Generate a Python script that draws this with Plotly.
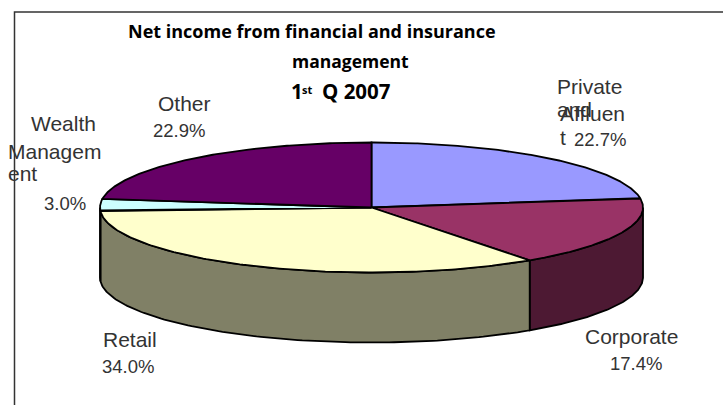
import numpy as np
import plotly.graph_objects as go

# Segment shares of net income, % of total, clockwise from twelve o'clock
segments = ["Private and Affluent", "Corporate", "Retail", "Wealth Management", "Other"]
shares = [22.7, 17.4, 34.0, 3.0, 22.9]
top_colors = ["#9999FF", "#993366", "#FFFFCC", "#CCFFFF", "#660066"]
wall_colors = ["#4D4D80", "#4D1933", "#808066", "#668080", "#330033"]

# Tilted disc geometry in page pixels
CX, CY, RX, RY, DEPTH = 371.5, 207.5, 271.5, 65, 70


def rim(t):
    return CX + RX * np.sin(t), CY - RY * np.cos(t)


fig = go.Figure()
edges = np.radians(np.cumsum([0] + shares) * 3.6)

# Side walls: only the part of each slice on the near half of the disc
for i in range(len(shares)):
    lo, hi = max(edges[i], np.pi / 2), min(edges[i + 1], 3 * np.pi / 2)
    if hi <= lo:
        continue
    t = np.linspace(lo, hi, 120)
    x, y = rim(t)
    fig.add_trace(go.Scatter(
        x=np.r_[x, x[::-1], x[0]], y=np.r_[y, y[::-1] + DEPTH, y[0]],
        mode="lines", fill="toself", fillcolor=wall_colors[i],
        line=dict(color="black", width=1.8), hoverinfo="skip",
    ))

# Top face wedges
for i, name in enumerate(segments):
    t = np.linspace(edges[i], edges[i + 1], 160)
    x, y = rim(t)
    fig.add_trace(go.Scatter(
        x=np.r_[CX, x, CX], y=np.r_[CY, y, CY],
        mode="lines", fill="toself", fillcolor=top_colors[i],
        line=dict(color="black", width=1.8), name=name, hoverinfo="name",
    ))

# Chart frame: left and top edges only
fig.add_shape(type="path", path="M 14.5 405 L 14.5 12 L 723 12",
              line=dict(color="#333333", width=1.5))


def title_font(size):
    return dict(family="Open Sans", size=size, color="black", weight=700)


WORD_FONT = dict(family="Liberation Sans", size=21, color="#333333")
NUMBER_FONT = dict(family="Liberation Sans", size=18.5, color="#333333")

text_items = [
    ("Net income from financial and insurance", 129, 31, title_font(18)),
    ("management", 293, 61, title_font(17.5)),
    ("1", 292, 91, title_font(20.5)),
    ("st", 303, 89, title_font(11)),
    ("Q 2007", 323, 91, title_font(20.5)),
    ("Other", 159, 103, WORD_FONT), ("22.9%", 154, 130, NUMBER_FONT),
    ("Wealth", 32, 123, WORD_FONT), ("Managem", 9, 151, WORD_FONT),
    ("ent", 9, 173, WORD_FONT), ("3.0%", 45, 203, NUMBER_FONT),
    ("Private", 558, 86, WORD_FONT), ("and", 558, 109, WORD_FONT),
    ("Affluen", 561, 113, WORD_FONT), ("t", 561, 137, WORD_FONT),
    ("22.7%", 575, 139, NUMBER_FONT),
    ("Retail", 104, 339, WORD_FONT), ("34.0%", 103, 366, NUMBER_FONT),
    ("Corporate", 586, 336, WORD_FONT), ("17.4%", 611, 363, NUMBER_FONT),
]
for text, x, y, font in text_items:
    fig.add_annotation(x=x, y=y, text=text, showarrow=False, xanchor="left",
                       yanchor="middle", font=font, xshift=-2,
                       borderpad=0)

fig.update_layout(
    width=723, height=405, margin=dict(l=0, r=0, t=0, b=0),
    paper_bgcolor="white", plot_bgcolor="white", showlegend=False,
    xaxis=dict(range=[0, 723], visible=False),
    yaxis=dict(range=[405, 0], visible=False),
)
fig.write_html("out.html")
